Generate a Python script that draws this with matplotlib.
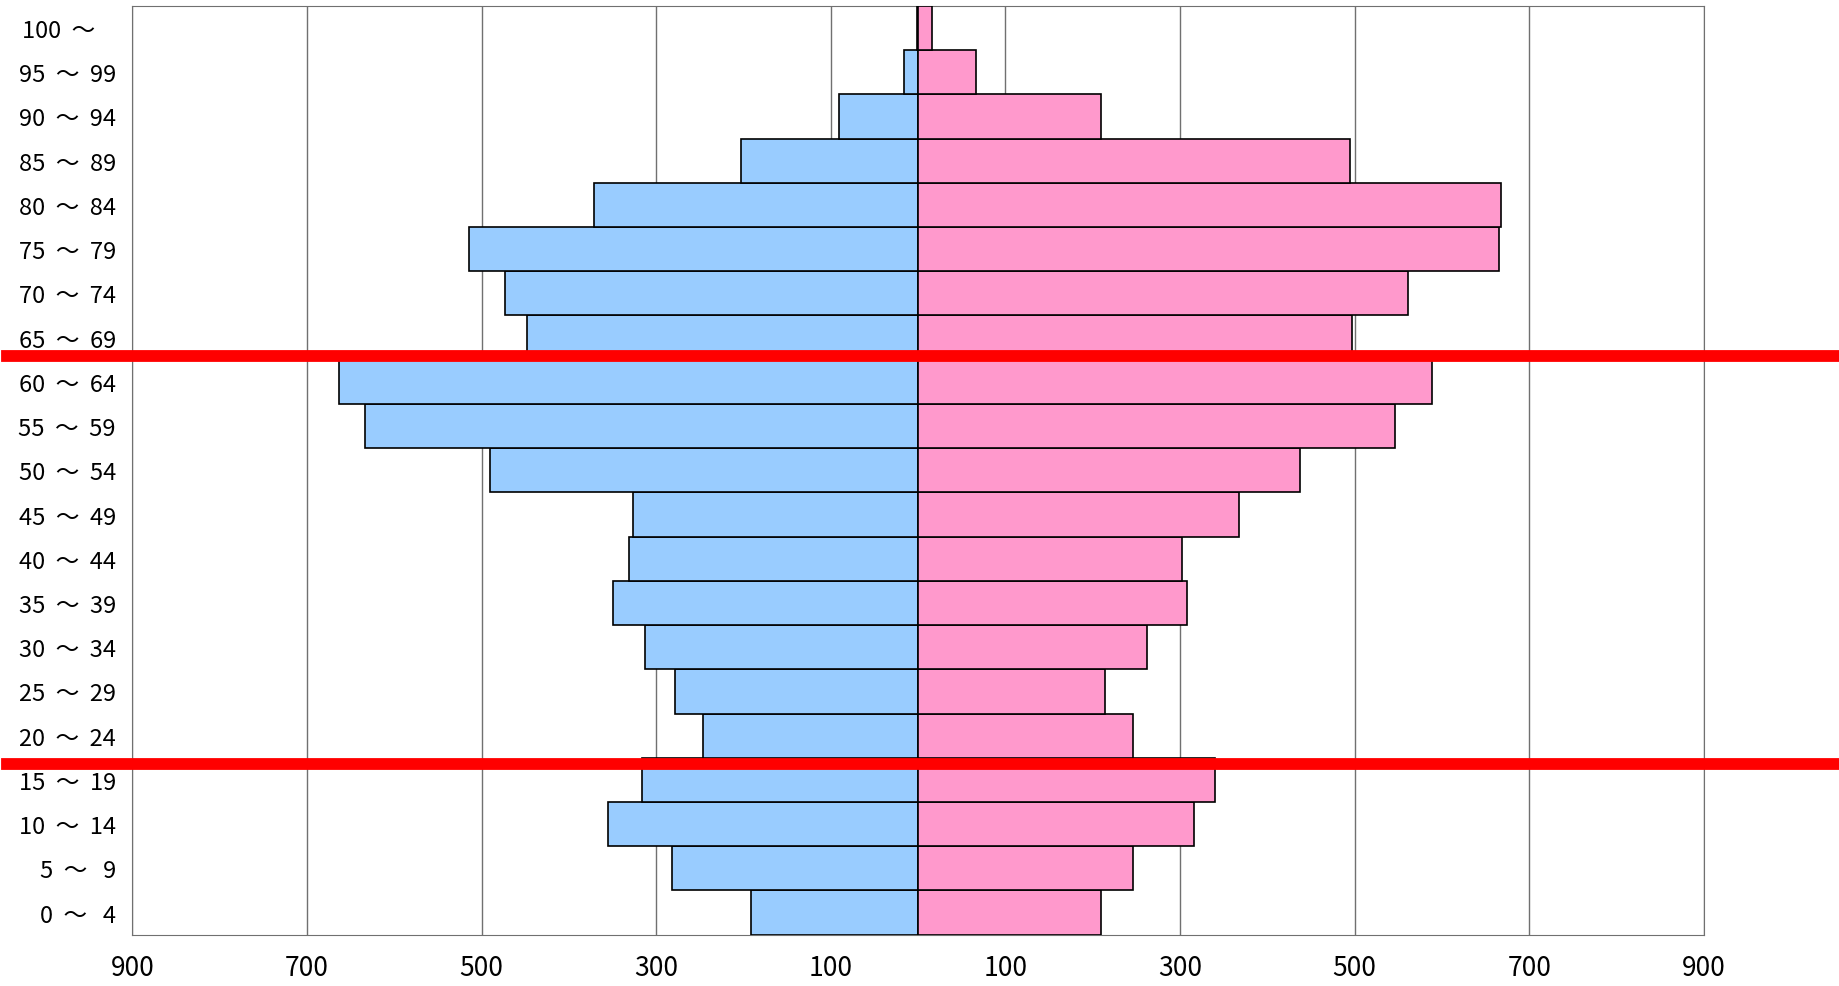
import matplotlib
matplotlib.use("Agg")
import matplotlib.pyplot as plt
from matplotlib.lines import Line2D
import matplotlib.transforms as mtrans

plt.rcParams['font.family'] = ['Noto Sans CJK JP', 'DejaVu Sans']

ages = ["0 ～  4", "5 ～  9", "10 ～ 14", "15 ～ 19", "20 ～ 24", "25 ～ 29", "30 ～ 34",
        "35 ～ 39", "40 ～ 44", "45 ～ 49", "50 ～ 54", "55 ～ 59", "60 ～ 64", "65 ～ 69",
        "70 ～ 74", "75 ～ 79", "80 ～ 84", "85 ～ 89", "90 ～ 94", "95 ～ 99", "100 ～   "]
male = [192, 282, 355, 316, 247, 278, 313, 350, 331, 327, 491, 634, 664, 448,
        473, 514, 371, 203, 91, 16, 1]
female = [210, 246, 316, 340, 246, 214, 262, 308, 302, 368, 437, 546, 589, 497,
          561, 665, 668, 495, 210, 66, 16]
xticks = [-900, -700, -500, -300, -100, 100, 300, 500, 700, 900]
xticklabels = ["900", "700", "500", "300", "100", "100", "300", "500", "700", "900"]
red_lines_y = [12.58, 3.36]

fig = plt.figure(figsize=(18.4, 9.87), dpi=100)
ax = fig.add_axes([0.072, 0.052, 0.854, 0.941])
y = list(range(len(ages)))
ax.barh(y, [-m for m in male], height=1.0, color='#99ccff', edgecolor='black', linewidth=1.2, zorder=3)
ax.barh(y, female, height=1.0, color='#ff99cc', edgecolor='black', linewidth=1.2, zorder=3)
ax.set_xlim(-900, 900)
ax.set_ylim(-0.5, 20.5)
ax.set_xticks(xticks)
ax.set_xticklabels(xticklabels, fontsize=19)
ax.set_yticks(y)
ax.set_yticklabels([a.replace(" ～ ", "  ～  ") for a in ages], fontsize=17)
ax.tick_params(length=0, pad=12)
ax.tick_params(axis='x', pad=14)
ax.grid(axis='x', color='#707070', linewidth=1, zorder=0)
for s in ax.spines.values():
    s.set_color('#707070')

trans = mtrans.blended_transform_factory(fig.transFigure, ax.transData)
for ry in red_lines_y:
    fig.add_artist(Line2D([0.004, 1.0], [ry, ry], transform=trans, color='#ff0000',
                          linewidth=8.5, zorder=10, clip_on=False))

fig.savefig("out.png", dpi=100)
